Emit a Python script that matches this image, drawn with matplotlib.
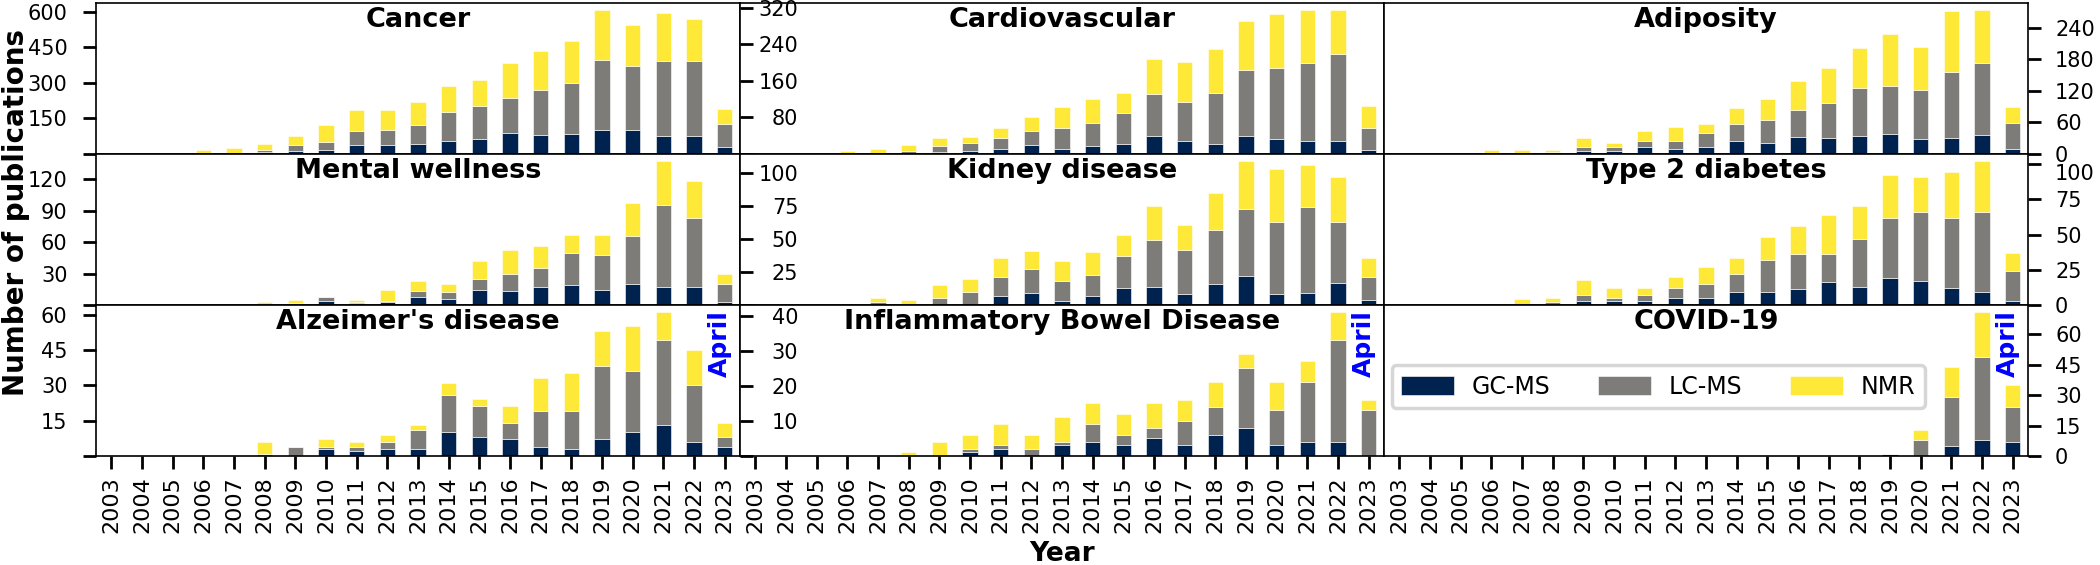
import matplotlib.pyplot as plt
from matplotlib import transforms

years = list(range(2003, 2024))
methods = ["GC-MS", "LC-MS", "NMR"]

# publications per year, one list per technique (2003 ... 2023)
cancer_gc = [0, 0, 0, 1, 2, 8, 14, 17, 38, 38, 42, 53, 62, 90, 81, 86, 102, 102, 74, 77, 28]
cancer_lc = [0, 0, 0, 1, 3, 10, 22, 35, 60, 64, 80, 126, 141, 146, 191, 214, 295, 271, 319, 316, 98]
cancer_nmr = [0, 0, 0, 15, 20, 23, 41, 70, 88, 84, 98, 108, 110, 150, 163, 175, 210, 171, 203, 175, 63]

cardio_gc = [0, 0, 0, 0, 0, 3, 5, 7, 11, 20, 11, 17, 21, 40, 29, 21, 40, 32, 29, 29, 9]
cardio_lc = [0, 0, 0, 1, 3, 4, 12, 18, 25, 31, 47, 50, 69, 92, 85, 113, 143, 157, 171, 191, 49]
cardio_nmr = [0, 0, 3, 5, 8, 13, 19, 13, 22, 29, 45, 53, 44, 77, 87, 97, 109, 118, 115, 95, 47]

adip_gc = [0, 0, 0, 2, 1, 2, 6, 5, 14, 9, 13, 25, 20, 33, 30, 35, 38, 28, 30, 36, 9]
adip_lc = [0, 0, 0, 0, 1, 1, 8, 9, 11, 16, 26, 32, 44, 51, 67, 91, 91, 93, 125, 137, 49]
adip_nmr = [0, 0, 0, 5, 5, 4, 16, 6, 19, 26, 18, 30, 41, 54, 66, 76, 98, 83, 116, 100, 31]

mental_gc = [0, 0, 0, 0, 0, 0, 1, 4, 2, 3, 8, 6, 14, 13, 17, 19, 14, 20, 17, 17, 3]
mental_lc = [0, 0, 0, 0, 0, 0, 1, 4, 1, 1, 5, 6, 11, 17, 18, 31, 34, 46, 78, 66, 17]
mental_nmr = [0, 0, 0, 0, 0, 3, 3, 0, 2, 10, 10, 8, 17, 22, 21, 17, 19, 31, 42, 35, 10]

kidney_gc = [0, 0, 0, 0, 0, 0, 0, 0, 7, 9, 3, 7, 13, 14, 8, 16, 22, 8, 9, 17, 4]
kidney_lc = [0, 0, 0, 0, 2, 0, 5, 10, 14, 18, 15, 16, 24, 35, 34, 41, 51, 55, 65, 46, 17]
kidney_nmr = [1, 0, 1, 1, 3, 4, 10, 10, 15, 14, 15, 17, 16, 26, 19, 28, 36, 40, 32, 34, 15]

t2d_gc = [0, 0, 0, 0, 0, 1, 3, 3, 3, 5, 5, 9, 9, 11, 16, 13, 19, 17, 12, 9, 3]
t2d_lc = [0, 0, 0, 0, 1, 1, 4, 2, 4, 7, 10, 13, 23, 25, 20, 34, 43, 49, 50, 57, 21]
t2d_nmr = [0, 1, 0, 1, 3, 3, 11, 7, 5, 8, 12, 11, 16, 20, 28, 23, 30, 25, 32, 36, 13]

alz_gc = [0, 0, 0, 0, 0, 0, 0, 3, 2, 3, 3, 10, 8, 7, 4, 3, 7, 10, 13, 6, 4]
alz_lc = [0, 0, 0, 0, 0, 1, 4, 1, 2, 3, 8, 16, 13, 7, 15, 16, 31, 26, 36, 24, 4]
alz_nmr = [0, 0, 0, 0, 0, 5, 0, 3, 2, 3, 2, 5, 3, 7, 14, 16, 15, 19, 12, 15, 6]

ibd_gc = [0, 0, 0, 0, 0, 0, 0, 1, 2, 0, 3, 4, 3, 5, 3, 6, 8, 3, 4, 4, 0]
ibd_lc = [0, 0, 0, 0, 0, 0, 0, 1, 1, 2, 1, 5, 3, 3, 7, 8, 17, 10, 17, 29, 13]
ibd_nmr = [0, 0, 0, 0, 0, 1, 4, 4, 6, 4, 7, 6, 6, 7, 6, 7, 4, 8, 6, 8, 3]

covid_gc = [0, 0, 0, 0, 0, 0, 0, 0, 0, 0, 0, 0, 0, 0, 0, 0, 1, 0, 5, 8, 7]
covid_lc = [0, 0, 0, 0, 0, 0, 0, 0, 0, 0, 0, 0, 0, 0, 0, 0, 0, 8, 24, 41, 17]
covid_nmr = [0, 0, 0, 0, 0, 0, 0, 0, 0, 0, 0, 0, 0, 0, 0, 0, 0, 5, 15, 22, 11]

panels = [
    ("Cancer", cancer_gc, cancer_lc, cancer_nmr, [0, 150, 300, 450, 600]),
    ("Cardiovascular", cardio_gc, cardio_lc, cardio_nmr, [0, 80, 160, 240, 320]),
    ("Adiposity", adip_gc, adip_lc, adip_nmr, [0, 60, 120, 180, 240]),
    ("Mental wellness", mental_gc, mental_lc, mental_nmr, [0, 30, 60, 90, 120]),
    ("Kidney disease", kidney_gc, kidney_lc, kidney_nmr, [0, 25, 50, 75, 100]),
    ("Type 2 diabetes", t2d_gc, t2d_lc, t2d_nmr, [0, 25, 50, 75, 100]),
    ("Alzeimer's disease", alz_gc, alz_lc, alz_nmr, [0, 15, 30, 45, 60]),
    ("Inflammatory Bowel Disease", ibd_gc, ibd_lc, ibd_nmr, [0, 10, 20, 30, 40]),
    ("COVID-19", covid_gc, covid_lc, covid_nmr, [0, 15, 30, 45, 60]),
]

colores = [plt.cm.cividis(0.0), plt.cm.cividis(0.5), plt.cm.cividis(1.0)]

fig, axes = plt.subplots(
    3, 3, figsize=(21, 5.65), dpi=100,
    gridspec_kw=dict(left=96 / 2100, right=2028 / 2100, bottom=109 / 565,
                     top=562 / 565, wspace=0, hspace=0),
)

x = list(range(len(years)))
for k, (ax, (titulo, gc, lc, nmr, ticks)) in enumerate(zip(axes.flat, panels)):
    fila, col = divmod(k, 3)
    base = [0] * len(years)
    for valores, color, nombre in zip((gc, lc, nmr), colores, methods):
        ax.bar(x, valores, 0.5, bottom=base, color=color, label=nombre,
               edgecolor="white", linewidth=0.4)
        base = [b + v for b, v in zip(base, valores)]

    ax.set_xlim(-0.5, len(years) - 0.5)
    ax.set_ylim(0, max(base) * 1.05)
    for s in ax.spines.values():
        s.set_linewidth(1.2)

    # eje y
    ax.set_yticks(ticks)
    if col == 2:
        ax.yaxis.tick_right()
        ax.set_yticklabels([str(t) for t in ticks])
        ax.tick_params(axis="y", direction="out", length=9.5, width=2,
                       labelsize=15, pad=10)
        # la etiqueta superior va un poco mas abajo, como en el original
        if fila == 1:
            ax.get_yticklabels()[-1].set_va("top")
    else:
        ax.set_yticklabels(["" if t == 0 else str(t) for t in ticks])
        if col == 0:
            ax.tick_params(axis="y", direction="out", length=9.5, width=2,
                           labelsize=15, pad=11)
        else:
            ax.tick_params(axis="y", direction="in", length=9.5, width=2,
                           labelsize=15, pad=-42)

    # eje x
    ax.set_xticks(x)
    if fila == 2:
        ax.set_xticklabels([str(y) for y in years], rotation=90, fontsize=16)
        ax.tick_params(axis="x", direction="out", length=9.5, width=2, pad=5)
        trans = transforms.blended_transform_factory(ax.transData, ax.transAxes)
        ax.text(len(years) - 1.15, 0.965, "April", transform=trans, rotation=90,
                ha="center", va="top", color="blue", fontsize=18,
                fontweight="bold")
    else:
        ax.tick_params(axis="x", bottom=False, labelbottom=False)

    ax.text(0.5, 0.975, titulo, transform=ax.transAxes, ha="center", va="top",
            fontsize=19.5, fontweight="bold")

leg = axes[2, 2].legend(loc="center left", bbox_to_anchor=(0.012, 0.46),
                        borderaxespad=0, ncol=3, fontsize=17,
                        handlelength=2.25, handleheight=0.85,
                        handletextpad=0.75, columnspacing=2.0, borderpad=0.4)
leg.get_frame().set_linewidth(2.5)

fig.text(0.001, 0.624, "Number of publications", rotation=90, ha="left",
         va="center", fontsize=20, fontweight="bold")
fig.text(1062 / 2100, 4 / 565, "Year", ha="center", va="baseline", fontsize=19,
         fontweight="bold")

plt.savefig("out.png", dpi=100)
plt.close()
